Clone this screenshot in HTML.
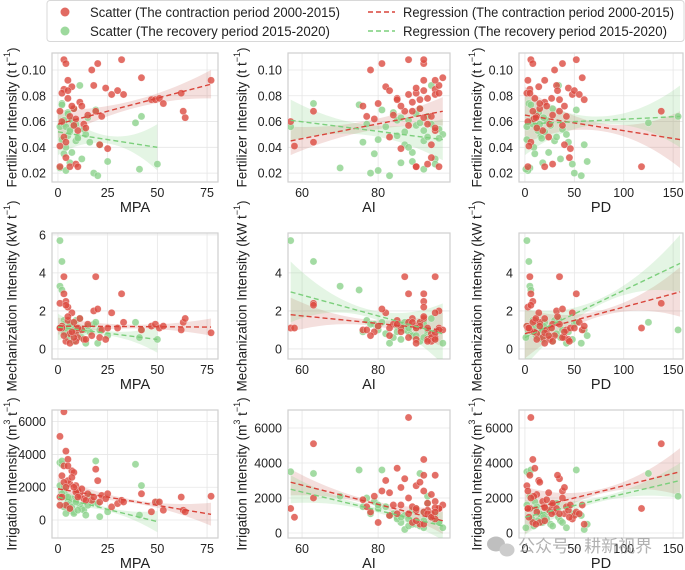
<!DOCTYPE html>
<html><head><meta charset="utf-8">
<style>
body{margin:0;background:#fff;}
svg{display:block;font-family:"Liberation Sans",Arial,sans-serif;}
</style></head>
<body>
<svg id="chart" width="685" height="570" viewBox="0 0 685 570" xmlns="http://www.w3.org/2000/svg">
  <g id="legend">
    <rect x="47" y="0.5" width="637" height="41" rx="3" fill="#fff" stroke="#d8d8d8"/>
    <circle cx="65" cy="12" r="4.5" fill="rgba(220,80,70,0.85)"/>
    <text x="90" y="17" font-size="13.5" textLength="250" lengthAdjust="spacingAndGlyphs" fill="#222">Scatter (The contraction period 2000-2015)</text>
    <circle cx="65" cy="31" r="4.5" fill="rgba(140,210,140,0.85)"/>
    <text x="90" y="36" font-size="13.5" textLength="240" lengthAdjust="spacingAndGlyphs" fill="#222">Scatter (The recovery period 2015-2020)</text>
    <line x1="368" y1="12" x2="395" y2="12" stroke="#d9443a" stroke-width="1.6" stroke-dasharray="5,3"/>
    <text x="403" y="17" font-size="13.5" textLength="271" lengthAdjust="spacingAndGlyphs" fill="#222">Regression (The contraction period 2000-2015)</text>
    <line x1="368" y1="31" x2="395" y2="31" stroke="#7ccf7c" stroke-width="1.6" stroke-dasharray="5,3"/>
    <text x="403" y="36" font-size="13.5" textLength="264" lengthAdjust="spacingAndGlyphs" fill="#222">Regression (The recovery period 2015-2020)</text>
  </g>
  <g id="panels"></g>
  <g opacity="0.75">
    <ellipse cx="496" cy="544" rx="9" ry="7.5" fill="#aaa"/>
    <ellipse cx="507" cy="550" rx="7.5" ry="6.5" fill="#bbb"/>
    <text x="518" y="552" font-size="17" fill="#999" font-family="'Liberation Sans','Noto Sans CJK SC',sans-serif">公众号 · 耕新视界</text>
  </g>
</svg>
<script>
// Observations: [MPA, AI, PD, fertilizer, mechanization, irrigation]
const redObs = [
[1,96,3,0.025,1.1,1400],[1,63,138,0.068,2.4,5100],[3,95,5,0.085,3.8,3300],[3,88,6,0.108,2.9,6600],
[4,92,8,0.105,2.5,4200],[2,90,2,0.082,1.2,2700],[5,85,10,0.078,1.5,3700],[6,94,12,0.064,0.8,2200],
[7,82,14,0.087,1.9,3000],[8,91,15,0.070,1.4,2900],[9,79,9,0.062,0.9,2100],[10,95,18,0.053,0.6,1800],
[11,89,20,0.075,1.6,1500],[12,76,22,0.072,1.0,1900],[13,93,25,0.058,0.5,1300],[15,84,28,0.065,1.3,1600],
[17,78,30,0.100,0.7,1200],[18,96,32,0.088,2.0,1400],[19,87,35,0.068,3.8,3100],[20,81,38,0.105,2.1,2400],
[21,94,40,0.042,0.6,1100],[22,77,42,0.064,1.0,1500],[24,90,44,0.086,0.5,1300],[25,86,46,0.039,1.1,1600],
[27,95,48,0.081,1.9,800],[30,83,50,0.084,1.1,1000],[32,92,52,0.108,2.9,1200],[33,88,55,0.081,1.4,1100],
[42,97,58,0.094,1.0,1600],[47,91,60,0.077,1.2,500],[49,85,35,0.077,1.3,1100],[51,93,27,0.078,1.1,1100],
[53,80,15,0.074,1.2,600],[62,96,5,0.082,1.0,1400],[63,89,8,0.068,1.4,600],[64,92,11,0.063,1.6,500],
[77,95,20,0.092,0.85,1450],[5,92,3,0.092,2.2,2400],[4,94,45,0.032,0.4,900],[6,90,20,0.025,0.3,700],
[9,93,28,0.027,0.4,1700],[3,83,24,0.048,0.7,2300],[8,88,38,0.057,0.6,2000],[14,95,12,0.055,0.5,1200],
[2,57,3,0.060,1.1,1400],[4,63,6,0.044,2.3,2000],[1,58,4,0.041,1.1,900],[5,92,33,0.084,1.7,3300],
[7,86,40,0.072,0.9,2600],[10,90,118,0.025,1.1,1400]
];
const greenObs = [
[1,57,2,0.056,5.7,3500],[2,63,4,0.074,4.6,3400],[1,70,5,0.024,3.3,2100],[2,75,6,0.073,3.1,3600],
[3,77,8,0.058,1.5,2000],[3,79,10,0.035,1.3,1800],[4,80,3,0.022,1.0,1400],[4,82,12,0.056,0.8,1500],
[5,84,14,0.067,0.6,1100],[5,85,16,0.049,1.2,900],[6,86,18,0.028,0.5,600],[6,87,20,0.052,1.4,1000],
[7,88,22,0.061,0.9,800],[7,89,24,0.036,0.7,1300],[8,90,26,0.057,1.1,500],[8,91,28,0.070,0.4,400],
[9,92,30,0.045,1.5,1200],[10,93,32,0.048,0.8,1700],[11,94,34,0.088,1.6,900],[12,95,36,0.031,0.6,700],
[13,96,38,0.054,1.0,600],[14,97,42,0.050,0.3,300],[16,76,44,0.044,0.9,1500],[18,78,50,0.020,1.3,1100],
[19,81,52,0.069,1.4,3600],[20,83,57,0.018,0.3,1000],[21,87,60,0.042,1.0,200],[25,89,63,0.029,0.7,500],
[39,91,125,0.059,1.4,3400],[42,93,155,0.064,1.0,2100],[50,95,48,0.027,0.5,1100],[41,92,1,0.023,0.6,300],
[2,80,2,0.046,1.2,1600],[3,85,7,0.061,0.9,800],[4,88,9,0.040,1.1,400],[5,90,11,0.066,0.7,1400],
[6,92,13,0.053,1.3,700],[9,94,15,0.058,0.8,1100],[10,96,17,0.047,1.0,600],[15,86,19,0.063,1.2,900]
];
// Regression lines [x0, y0, x1, y1, bandMid, bandEnd] per panel (row-major)
const redReg = [
[0,0.058,77,0.089,0.003,0.011],[57,0.045,97,0.068,0.004,0.011],[0,0.065,157,0.046,0.003,0.022],
[0,1.2,77,1.15,0.1,0.45],[57,1.8,97,1.0,0.15,0.9],[0,0.8,157,3.0,0.15,1.3],
[0,1900,77,350,100,700],[57,2900,97,700,120,750],[0,1300,157,3500,130,1350]
];
const greenReg = [
[0,0.052,50,0.040,0.003,0.018],[57,0.061,97,0.046,0.004,0.016],[0,0.058,157,0.064,0.003,0.024],
[0,1.15,50,0.5,0.12,0.7],[57,3.0,97,0.8,0.2,1.6],[0,0.6,157,4.5,0.15,1.5],
[0,1400,50,-100,110,650],[57,2500,97,400,130,800],[0,900,157,3000,130,1000]
];
const xTicks = [[0,25,50,75],[60,80],[0,50,100,150]];
const xTitles = ["MPA","AI","PD"];
const yTicksRow = [[0.02,0.04,0.06,0.08,0.10],[0,2,4,6],[0,2000,4000,6000]];
const yTicksMid = [[0.02,0.04,0.06,0.08,0.10],[0,2,4],[0,2000,4000,6000]];
const yTitleBase = ["Fertilizer Intensity (t t","Mechanization Intensity (kW t","Irrigation Intensity (m"];

const colBox=[[52,218],[288,450],[519,683]];
const rowBox=[[53,182],[233,359],[410,538]];
const xDom=[[-3,80.5],[56.3,98.9],[-6,160]];
const yDomLeft=[[0.0131,0.1132],[-0.53,6.1],[-1097,6710]];
const yDomOther=[[0.0131,0.1132],[-0.53,6.1],[-286,7029]];
const ns="http://www.w3.org/2000/svg";
const root=document.getElementById('panels');
function mk(tag,attrs,parent){const e=document.createElementNS(ns,tag);for(const k in attrs)e.setAttribute(k,attrs[k]);parent.appendChild(e);return e;}
function fmt(v,r){return r===0?v.toFixed(2):String(v);}
for(let r=0;r<3;r++){for(let c=0;c<3;c++){
  const g=mk('g',{},root);
  
  
  const [L,R]=colBox[c],[T,B]=rowBox[r];
  const xd=xDom[c],yd=(c===0?yDomLeft:yDomOther)[r];
  const sx=v=>L+(v-xd[0])/(xd[1]-xd[0])*(R-L);
  const sy=v=>B-(v-yd[0])/(yd[1]-yd[0])*(B-T);
  const cp='clip'+r+c;
  const cl=mk('clipPath',{id:cp},g);mk('rect',{x:L,y:T,width:R-L,height:B-T},cl);
  xTicks[c].forEach(t=>{mk('line',{x1:sx(t),x2:sx(t),y1:T,y2:B,stroke:'#e6e6e6','stroke-width':0.8},g);
    const tx=mk('text',{x:sx(t),y:B+15,'font-size':12.5,'text-anchor':'middle',fill:'#222'},g);tx.textContent=t;
    
    });
  const yt=(c===0?yTicksRow:yTicksMid)[r];
  yt.forEach(t=>{mk('line',{x1:L,x2:R,y1:sy(t),y2:sy(t),stroke:'#e6e6e6','stroke-width':0.8},g);
    const tx=mk('text',{x:L-6,y:sy(t)+4.5,'font-size':12.5,'text-anchor':'end',fill:'#222'},g);tx.textContent=fmt(t,r);
    
    });
  mk('rect',{x:L,y:T,width:R-L,height:B-T,fill:'none',stroke:'#cfcfcf','stroke-width':1.2},g);
  const xt=mk('text',{x:(L+R)/2,y:B+30,'font-size':14.5,'text-anchor':'middle',fill:'#222'},g);xt.textContent=xTitles[c];
  
  
  const ylx=[13,243,478][c],yly=(T+B)/2;
  const yl=mk('text',{x:ylx,y:yly,'font-size':13.5,'text-anchor':'middle',fill:'#222',transform:`rotate(-90 ${ylx} ${yly})`,'dominant-baseline':'middle'},g);
  
  
  yl.appendChild(document.createTextNode(yTitleBase[r]));
  if(r===2){const s=mk('tspan',{'font-size':9,dy:-5},yl);s.textContent='3';const s2=mk('tspan',{dy:5},yl);s2.textContent=' t';}
  const s3=mk('tspan',{'font-size':9,dy:-5},yl);s3.textContent='−1';const s4=mk('tspan',{dy:5},yl);s4.textContent=')';
  const pg=mk('g',{'clip-path':`url(#${cp})`},g);
  [[redReg,'rgba(205,110,100,0.22)'],[greenReg,'rgba(130,210,130,0.22)']].forEach(([reg,fc],k)=>{
    const [x0,y0,x1,y1,bm,be]=reg[r*3+c];const up=[],dn=[];
    for(let i=0;i<=30;i++){const x=x0+(x1-x0)*i/30,y=y0+(y1-y0)*i/30,u=(i/30-0.5)*2,h=bm+(be-bm)*u*u;
      up.push(sx(x)+','+sy(y+h));dn.unshift(sx(x)+','+sy(y-h));}
    const band=mk('polygon',{points:up.concat(dn).join(' '),fill:fc},pg);
    
    
  });
  [[greenObs,'rgba(140,210,140,0.8)'],[redObs,'rgba(220,75,65,0.8)']].forEach(([obs,col],k)=>{
    obs.forEach(o=>{const p=mk('circle',{cx:sx(o[c]),cy:sy(o[3+r]),r:3.6,fill:col,stroke:'rgba(255,255,255,0.6)','stroke-width':0.5},pg);
      
      });
  });
  [[redReg,'#d9443a'],[greenReg,'#7ccf7c']].forEach(([reg,lc],k)=>{
    const [x0,y0,x1,y1]=reg[r*3+c];
    const ln=mk('line',{x1:sx(x0),y1:sy(y0),x2:sx(x1),y2:sy(y1),stroke:lc,'stroke-width':1.4,'stroke-dasharray':'5,3'},pg);
    
    
  });
}}
</script>
</body></html>
